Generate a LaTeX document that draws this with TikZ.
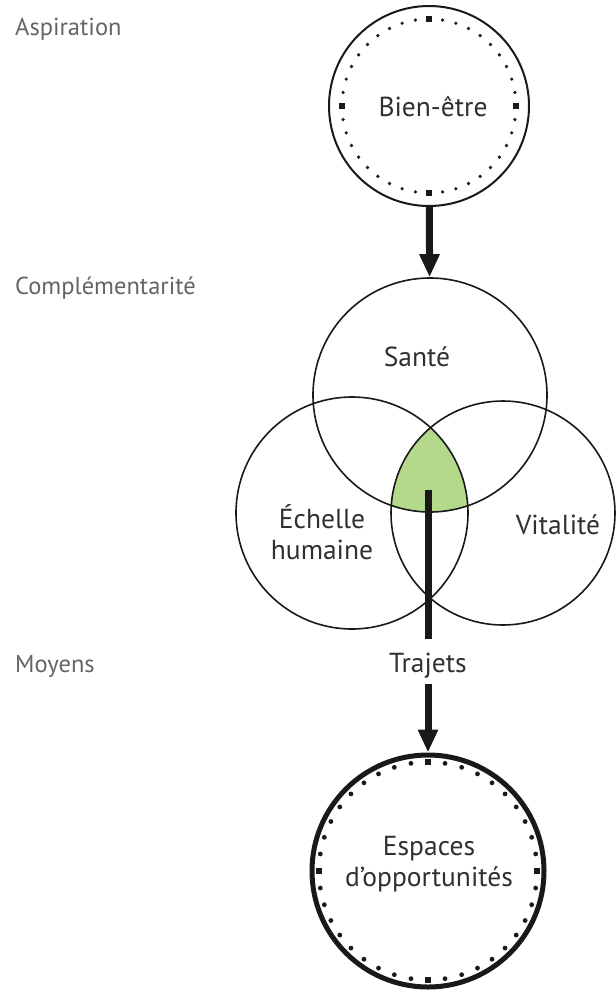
\documentclass[tikz,border=0pt]{standalone}
\usepackage{fontspec}
\setmainfont{PT Sans}
\usetikzlibrary{arrows.meta}

\definecolor{txtgrey}{RGB}{48,48,48}
\definecolor{sidegrey}{RGB}{100,100,100}
\definecolor{coregreen}{RGB}{181,217,139}

\tikzset{
  ring/.style={circle, draw=black!90, line width=1.6pt, inner sep=0pt},
  lbl/.style={text=txtgrey, font=\fontsize{27.5}{31}\selectfont, align=center, inner sep=0pt},
  sidelbl/.style={text=sidegrey, font=\fontsize{24.5}{28}\selectfont, anchor=west, inner sep=0pt},
  arr/.style={line width=7pt, draw=black!90, -{Triangle[width=19pt,length=23pt]}},
  bar/.style={line width=7pt, draw=black!90},
}

\begin{document}
\begin{tikzpicture}[x=1pt,y=-1pt]
        \useasboundingbox (0,0) rectangle (616,991);

        % level labels
        \node[sidelbl] (asp) at (15,29) {Aspiration};
        \node[sidelbl] (comp) at (15,288) {Complémentarité};
        \node[sidelbl] (moy) at (15,666) {Moyens};

        % green core of the three circles
        \begin{scope}
            \clip (430,395) circle[radius=117];
            \clip (352,513) circle[radius=116];
            \fill[coregreen] (503,513) circle[radius=112];
        \end{scope}

        \node[ring, line width=2pt, minimum size=200pt] (bien) at (429,106) {};
        \node[ring, minimum size=234pt] (sante) at (430,395) {};
        \node[ring, minimum size=232pt] (echelle) at (352,513) {};
        \node[ring, minimum size=224pt] (vitalite) at (503,513) {};
        \node[ring, line width=5pt, minimum size=232pt] (espaces) at (428,871) {};

        \node[lbl] (bienlbl) at (433,107) {Bien-être};
        \node[lbl] (santelbl) at (417,357) {Santé};
        \node[lbl] (echellelbl) at (322,532) {Échelle\\humaine};
        \node[lbl] (vitalitelbl) at (558,525) {Vitalité};
        \node[lbl] (trajets) at (428,666) {Trajets};
        \node[lbl] (espaceslbl) at (429,864) {Espaces\\d'opportunités};

        \coordinate (core) at (428,490);

        % dotted rings
        \foreach \q in {0,90,180,270} {
            \fill[black!90] (bien.center) ++(\q:87) +(-2.6,-2.6) rectangle +(2.6,2.6);
            \fill[black!90] (espaces.center) ++(\q:109) +(-3.2,-3.2) rectangle +(3.2,3.2);
            \foreach \a in {9,18,...,81} {
                \fill[black!90] (bien.center) ++(\a+\q:87) circle[radius=1.8];
                \fill[black!90] (espaces.center) ++(\a+\q:109) circle[radius=2.4];
            }
        }

        \draw[arr] (bien) -- (sante);
        \draw[bar] (core) -- ([yshift=14pt]trajets.north);
        \draw[arr] ([yshift=-5pt]trajets.south) -- (espaces);

\end{tikzpicture}
\end{document}
